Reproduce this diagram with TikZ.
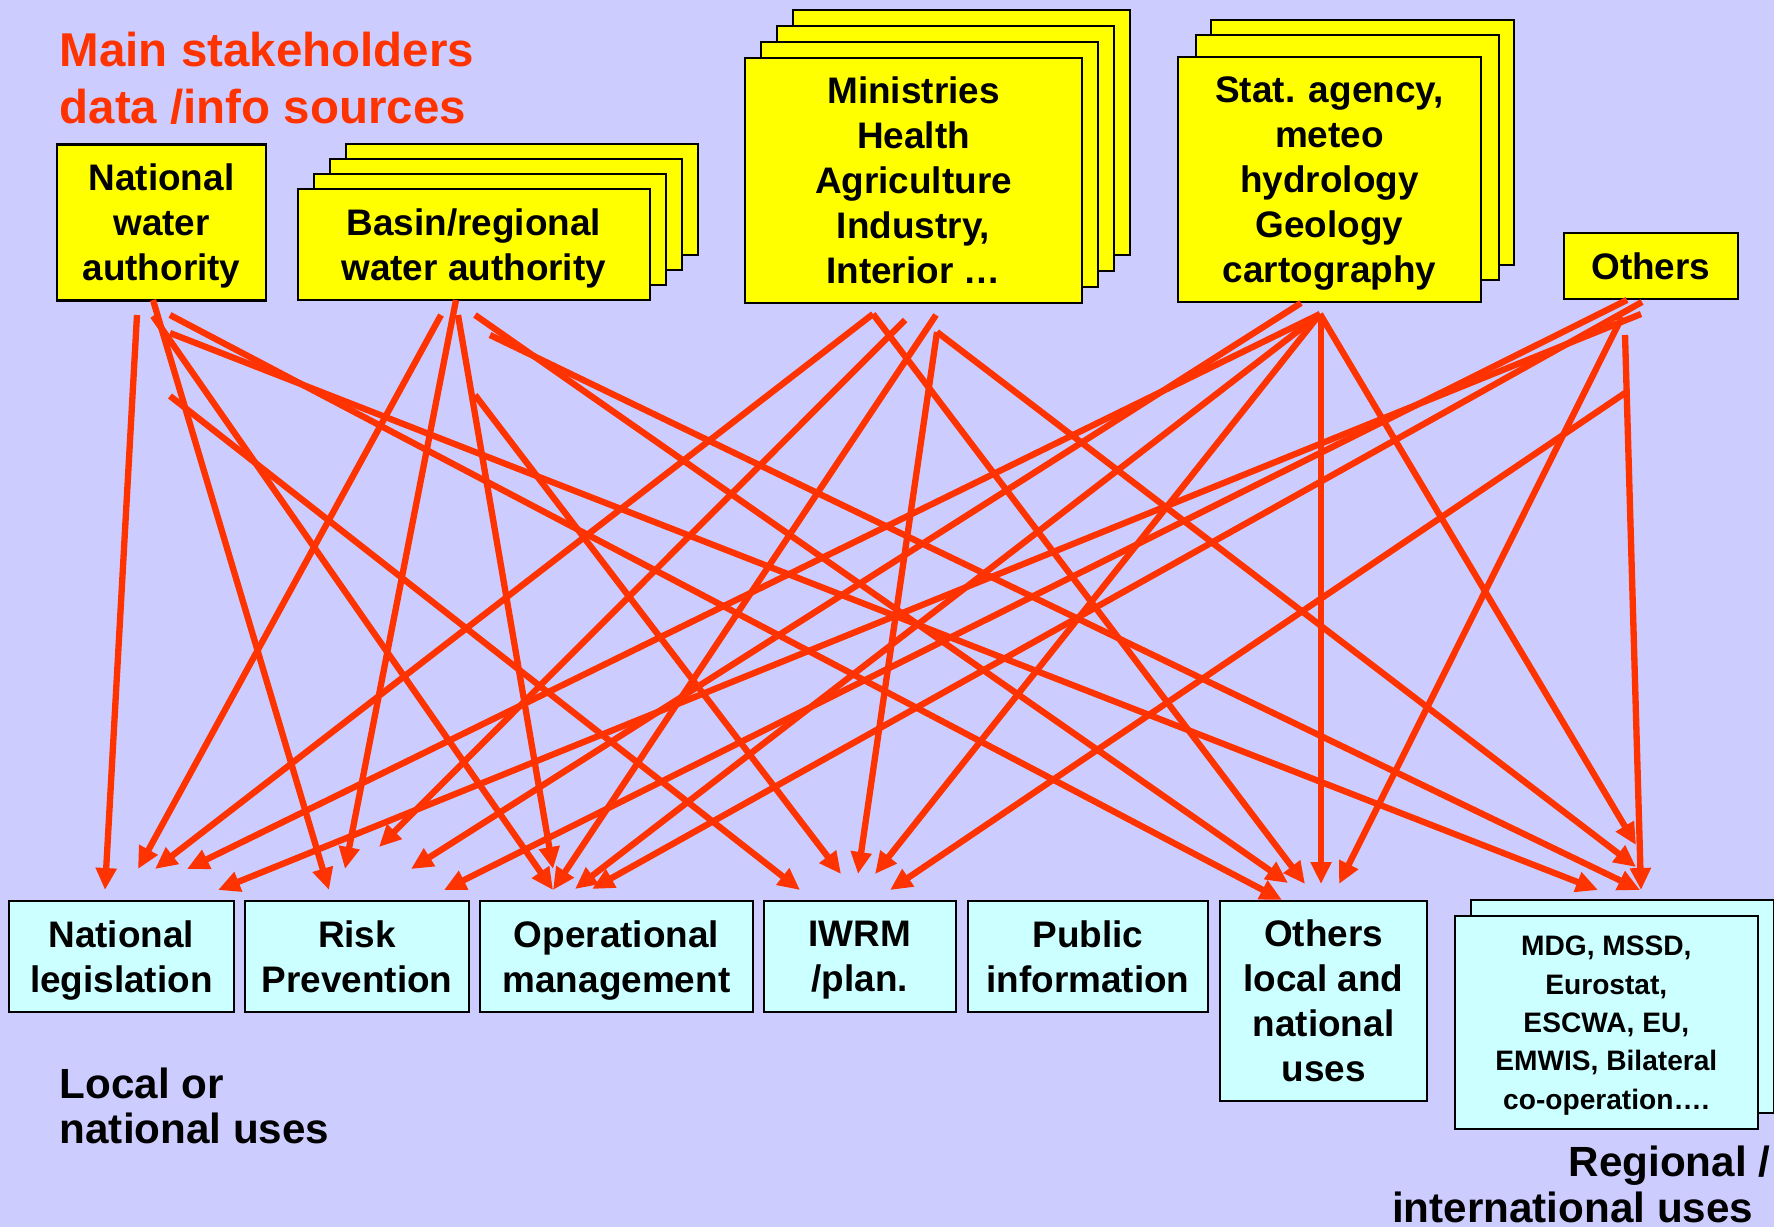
\documentclass[tikz,border=0pt]{standalone}
\usepackage{fontspec}
\setmainfont{Liberation Sans}
\usetikzlibrary{arrows.meta}
\definecolor{slidebg}{HTML}{CCCCFF}
\definecolor{srcyellow}{HTML}{FFFF00}
\definecolor{usecyan}{HTML}{CCFFFF}
\definecolor{flowred}{HTML}{FF3300}
\tikzset{
  srcbox/.style={draw=black, line width=0.6pt, fill=srcyellow, inner sep=0pt, align=center,
    text depth=0pt, font=\bfseries\fontsize{10.5}{12.8}\selectfont},
  usebox/.style={srcbox, fill=usecyan},
  flow/.style={draw=flowred, line width=1.8pt, -{Triangle[length=0.22cm,width=0.2cm]}},
  bigtext/.style={inner sep=0pt, font=\bfseries\fontsize{12}{13}\selectfont}
}
\begin{document}
\begin{tikzpicture}[x=0.01cm,y=-0.01cm]
\path[use as bounding box, fill=slidebg] (0,0) rectangle (1774,1227);

\node[anchor=north west, inner sep=0pt, align=left, text=flowred,
  font=\bfseries\fontsize{13.5}{16.1}\selectfont] (title) at (59,31.7) {Main stakeholders\\data /info sources};

% sources
\node[srcbox, minimum width=2.08cm, minimum height=1.56cm] (nwa) at (161.5,222.5) {National\\water\\authority};
\foreach \k in {3,2,1}
  \node[srcbox, minimum width=3.52cm, minimum height=1.11cm] (basin\k) at (473.75+16*\k,244.65-15*\k) {};
\node[srcbox, minimum width=3.52cm, minimum height=1.11cm] (basin) at (473.75,244.65) {Basin/regional\\water authority};
\foreach \k in {3,2,1}
  \node[srcbox, minimum width=3.36cm, minimum height=2.45cm] (min\k) at (913.5+16*\k,180.2-16*\k) {};
\node[srcbox, minimum width=3.36cm, minimum height=2.45cm] (min) at (913.5,180.2) {Ministries\\Health\\Agriculture\\Industry,\\Interior …};
\foreach \k/\dx/\dy in {2/33/37,1/18/22}
  \node[srcbox, minimum width=3.03cm, minimum height=2.45cm] (stat\k) at (1329.5+\dx,179.5-\dy) {};
\node[srcbox, minimum width=3.03cm, minimum height=2.45cm] (stat) at (1329.5,179.5) {Stat. agency,\\meteo\\hydrology\\Geology\\cartography};
\node[srcbox, minimum width=1.735cm, minimum height=0.66cm] (oth) at (1650.75,266) {Others};

% uses
\node[usebox, minimum width=2.25cm, minimum height=1.11cm] (legis) at (121.3,956.35) {National\\legislation};
\node[usebox, minimum width=2.24cm, minimum height=1.11cm] (risk) at (357,956.35) {Risk\\Prevention};
\node[usebox, minimum width=2.72cm, minimum height=1.11cm] (opman) at (616.5,956.35) {Operational\\management};
\node[usebox, minimum width=1.92cm, minimum height=1.11cm] (iwrm) at (859.85,956.35) {IWRM\\/plan.};
\node[usebox, minimum width=2.40cm, minimum height=1.11cm] (public) at (1087.85,956.35) {Public\\information};
\node[usebox, minimum width=2.07cm, minimum height=2.00cm] (othuse) at (1323.5,1000.7) {Others\\local and\\national\\uses};
\node[usebox, minimum width=3.03cm, minimum height=2.13cm] (mdg2) at (1622.5,1006.5) {};
\node[usebox, minimum width=3.03cm, minimum height=2.13cm, font=\bfseries\fontsize{8}{10.9}\selectfont] (mdg) at (1606.3,1022.5)
  {MDG, MSSD,\\Eurostat,\\ESCWA, EU,\\EMWIS, Bilateral\\co-operation….};

\node[bigtext, anchor=north west, align=left] (localuses) at (59,1066.7) {Local or\\national uses};
\node[bigtext, anchor=north east, align=right] (reguses) at (1771,1145) {Regional /\\international uses\hspace*{0.17cm}};

% data flows
\foreach \s/\t/\xa/\ya/\xb/\yb in {
  nwa/legis/137/315/105/890, nwa/risk/153/300/329/890, nwa/opman/153/316/553/890,
  nwa/iwrm/170/396/800/890, nwa/othuse/170/315/1282/900, nwa/mdg/170/333/1598/890,
  basin/legis/441/315/138/869, basin/risk/456/300/345/869, basin/opman/458/315/553/869,
  basin/iwrm/475/395/841/874, basin/othuse/475/315/1288/883, basin/mdg/490/335/1640/890,
  min/legis/873/314/155/869, min/risk/905/320/379/847, min/opman/936/315/553/890,
  min/iwrm/937/332/858/874, min/othuse/873/314/1305/884, min/mdg/937/332/1636/867,
  stat/legis/1320/314/187/869, stat/risk/1301/303/411/869, stat/opman/1320/314/575/889,
  stat/iwrm/1320/314/875/874, stat/othuse/1321/314/1321/884, stat/mdg/1320/314/1636/845,
  oth/legis/1641/314/218/890, oth/risk/1627/300/444/890, oth/opman/1642/302/592/889,
  oth/iwrm/1625/393/890/890, oth/othuse/1622/317/1339/884, oth/mdg/1625/335/1641/890}{
  \coordinate (\s-\t) at (\xa,\ya);
  \coordinate (\t-\s) at (\xb,\yb);
  \draw[flow] (\s-\t) -- (\t-\s);
}
\end{tikzpicture}
\end{document}
